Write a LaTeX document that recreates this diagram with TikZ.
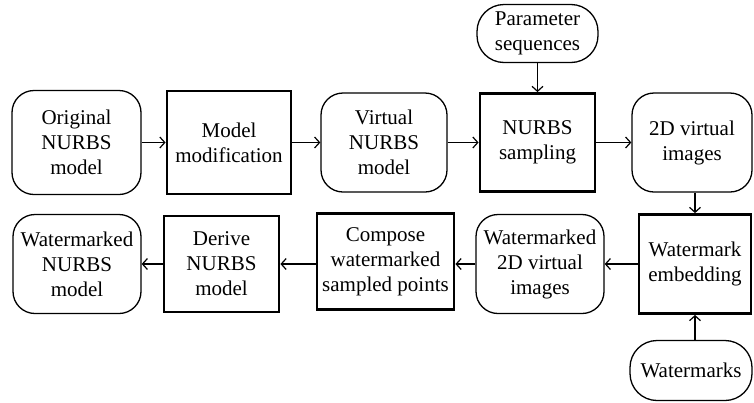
\documentclass[tikz,border=0pt]{standalone}
\usepackage{fontspec}
\setmainfont{Liberation Serif}
\usetikzlibrary{arrows.meta}
\begin{document}
\begin{tikzpicture}[x=1pt,y=-1pt,
  base/.style={align=center,inner sep=0pt,font=\fontsize{21}{25}\selectfont},
  roundbox/.style={base,draw,line width=1.3pt,rounded corners=22pt},
  pillbox/.style={base,draw,line width=1.3pt,rounded corners=27pt},
  procbox/.style={base,draw,line width=2.8pt},
  flow/.style={line width=1.2pt,-{Straight Barb[length=5pt,width=11pt,line width=1.2pt]}}]
\useasboundingbox (0,0) rectangle (754,402);
% top row
\node[roundbox,minimum width=129pt,minimum height=104pt] (orig) at (76.5,142.5) {Original\\NURBS\\model};
\node[procbox,minimum width=124pt,minimum height=103pt] (modmod) at (229,142.5) {Model\\modification};
\node[roundbox,minimum width=126pt,minimum height=99pt] (virt) at (384,142.5) {Virtual\\NURBS\\model};
\node[procbox,minimum width=115pt,minimum height=98pt] (samp) at (537.5,142.5) {NURBS\\sampling};
\node[roundbox,minimum width=120pt,minimum height=99pt] (img) at (692,142.5) {2D virtual\\images};
\node[pillbox,minimum width=121pt,minimum height=58pt] (param) at (537.5,33.5) {Parameter\\sequences};
% bottom row
\node[procbox,minimum width=112pt,minimum height=99pt] (emb) at (695,264) {Watermark\\embedding};
\node[roundbox,minimum width=128pt,minimum height=99pt] (wmimg) at (540,264) {Watermarked\\2D virtual\\images};
\node[procbox,minimum width=137pt,minimum height=96pt] (comp) at (385.5,261.5) {Compose\\watermarked\\sampled points};
\node[procbox,minimum width=115pt,minimum height=96pt] (der) at (221.5,264) {Derive\\NURBS\\model};
\node[roundbox,minimum width=128pt,minimum height=99pt] (wmn) at (77,264) {Watermarked\\NURBS\\model};
\node[pillbox,minimum width=122pt,minimum height=60pt] (wms) at (691,370.5) {Watermarks};
% connectors
\draw[flow] (orig.east) -- (modmod.west);
\draw[flow] (modmod.east) -- (virt.west);
\draw[flow] (virt.east) -- (samp.west);
\draw[flow] (samp.east) -- (img.west);
\draw[flow] (param.south) -- (samp.north);
\draw[flow] (img.south -| emb.north) -- (emb.north);
\draw[flow] (wms.north -| emb.south) -- (emb.south);
\draw[flow] (emb.west) -- (wmimg.east);
\draw[flow] (wmimg.west) -- (wmimg.west -| comp.east);
\draw[flow] (comp.west |- der.east) -- (der.east);
\draw[flow] (der.west) -- (wmn.east);
\end{tikzpicture}
\end{document}
